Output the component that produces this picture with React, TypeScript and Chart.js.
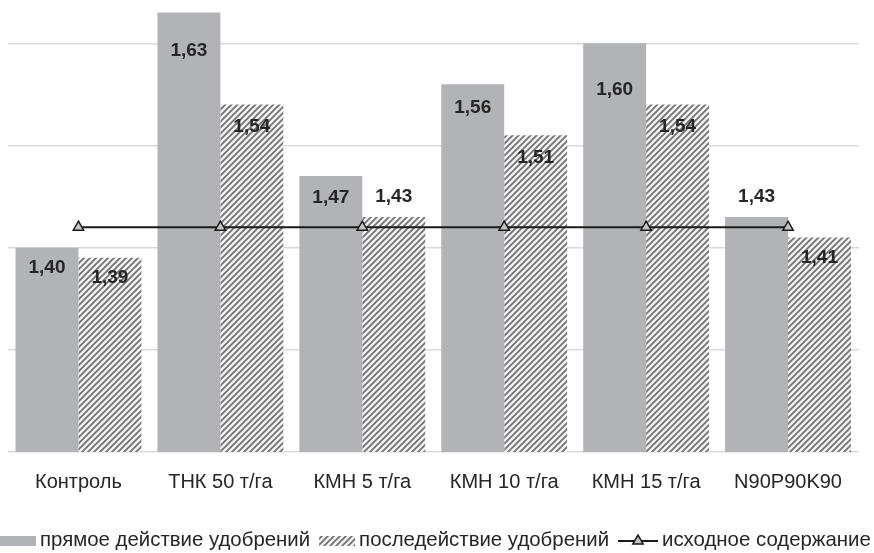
import React, { useEffect, useRef } from "react";
import { Chart, registerables } from "chart.js";

Chart.register(...registerables);

// ---- data ----
const categories = ["Контроль", "ТНК 50 т/га", "КМН 5 т/га", "КМН 10 т/га", "КМН 15 т/га", "N90P90K90"];
const directEffect = [1.4, 1.63, 1.47, 1.56, 1.6, 1.43];
const afterEffect = [1.39, 1.54, 1.43, 1.51, 1.54, 1.41];
const initialContent = [1.42, 1.42, 1.42, 1.42, 1.42, 1.42];
const seriesNames = ["прямое действие удобрений", "последействие удобрений", "исходное содержание"];
const yTickValues = [1.2, 1.3, 1.4, 1.5, 1.6];
const yMin = 1.2;
const yMax = 1.635;

// ---- label placement (style, px from bar top; negative = above) ----
const directLabelShift = [20, 38, 22, 24, 47, -20];
const afterLabelShift = [20, 22, -20, 23, 22, 20];

const FONT = '"Liberation Sans", Arial, Helvetica, sans-serif';
const TEXT = "#262626";
const GRAY = "#b2b3b7";
const LINE = "#1a1a1a";

function fmt(v: number) {
  return v.toFixed(2).replace(".", ",");
}

function makeHatch(): CanvasPattern | string {
  const c = document.createElement("canvas");
  const s = 6;
  c.width = s;
  c.height = s;
  const g = c.getContext("2d");
  if (!g) return "#999";
  g.fillStyle = "#f4f4f4";
  g.fillRect(0, 0, s, s);
  g.strokeStyle = "#747474";
  g.lineWidth = 1.9;
  g.beginPath();
  g.moveTo(-1, s + 1);
  g.lineTo(s + 1, -1);
  g.moveTo(-1, 1);
  g.lineTo(1, -1);
  g.moveTo(s - 1, s + 1);
  g.lineTo(s + 1, s - 1);
  g.stroke();
  const p = g.createPattern(c, "repeat");
  return p || "#999";
}

function drawTriangle(ctx: CanvasRenderingContext2D, x: number, y: number, r: number) {
  ctx.beginPath();
  let rad = 0;
  ctx.moveTo(x + Math.sin(rad) * r, y - Math.cos(rad) * r);
  rad += (2 * Math.PI) / 3;
  ctx.lineTo(x + Math.sin(rad) * r, y - Math.cos(rad) * r);
  rad += (2 * Math.PI) / 3;
  ctx.lineTo(x + Math.sin(rad) * r, y - Math.cos(rad) * r);
  ctx.closePath();
  ctx.fillStyle = "#c4c4c4";
  ctx.fill();
  ctx.lineWidth = 1.5;
  ctx.strokeStyle = LINE;
  ctx.stroke();
}

const labelPlugin = {
  id: "barValueLabels",
  afterDatasetsDraw(chart: any) {
    const ctx: CanvasRenderingContext2D = chart.ctx;
    ctx.save();
    ctx.font = `bold 19px ${FONT}`;
    ctx.fillStyle = TEXT;
    ctx.textAlign = "center";
    ctx.textBaseline = "middle";
    [0, 1].forEach((di) => {
      const meta = chart.getDatasetMeta(di);
      const shifts = di === 0 ? directLabelShift : afterLabelShift;
      const data = chart.data.datasets[di].data as number[];
      meta.data.forEach((el: any, i: number) => {
        ctx.fillText(fmt(data[i]), el.x, el.y + shifts[i]);
      });
    });
    ctx.restore();
  },
};

const legendPlugin = {
  id: "bottomLegend",
  afterDraw(chart: any) {
    const ctx: CanvasRenderingContext2D = chart.ctx;
    const ds = chart.data.datasets;
    const box = 36;
    const boxH = 10;
    const markW = 40;
    const gapText = 4;
    const gapItem = 9;
    let size = 20.4;
    ctx.save();
    const widths = () => {
      ctx.font = `${size}px ${FONT}`;
      return ds.map((d: any) => ctx.measureText(d.label).width);
    };
    let w = widths();
    const total = () =>
      box + gapText + w[0] + gapItem + box + gapText + w[1] + gapItem + markW + gapText + w[2];
    while (total() > chart.width && size > 10) {
      size -= 0.2;
      w = widths();
    }
    const y = 540;
    let x = 0;
    ctx.textBaseline = "middle";
    ctx.textAlign = "left";
    // item 1
    ctx.fillStyle = ds[0].backgroundColor;
    ctx.fillRect(x, y - boxH / 2 + 1, box, boxH);
    x += box + gapText;
    ctx.fillStyle = TEXT;
    ctx.fillText(ds[0].label, x, y);
    x += w[0] + gapItem;
    // item 2
    ctx.fillStyle = ds[1].backgroundColor;
    ctx.fillRect(x, y - boxH / 2 + 1, box, boxH);
    x += box + gapText;
    ctx.fillStyle = TEXT;
    ctx.fillText(ds[1].label, x, y);
    x += w[1] + gapItem;
    // item 3
    ctx.strokeStyle = LINE;
    ctx.lineWidth = 2;
    ctx.beginPath();
    ctx.moveTo(x, y + 1);
    ctx.lineTo(x + markW, y + 1);
    ctx.stroke();
    drawTriangle(ctx, x + markW / 2, y + 1, 6);
    x += markW + gapText;
    ctx.fillStyle = TEXT;
    ctx.fillText(ds[2].label, x, y);
    ctx.restore();
  },
};

export default function App() {
  const ref = useRef<HTMLCanvasElement | null>(null);

  useEffect(() => {
    if (!ref.current) return;
    Chart.defaults.font.family = FONT;
    const hatch = makeHatch();
    const chart = new Chart(ref.current, {
      type: "bar",
      data: {
        labels: categories,
        datasets: [
          {
            label: seriesNames[0],
            data: directEffect,
            backgroundColor: GRAY,
            borderWidth: 0,
            order: 1,
          },
          {
            label: seriesNames[1],
            data: afterEffect,
            backgroundColor: hatch as any,
            borderWidth: 0,
            order: 1,
          },
          {
            type: "line",
            label: seriesNames[2],
            data: initialContent,
            borderColor: LINE,
            borderWidth: 2,
            pointStyle: "triangle",
            pointRadius: 6,
            pointBackgroundColor: "#c4c4c4",
            pointBorderColor: LINE,
            pointBorderWidth: 1.5,
            fill: false,
            order: 0,
          } as any,
        ] as any,
      },
      options: {
        animation: false,
        responsive: true,
        maintainAspectRatio: false,
        layout: { padding: { left: 7, right: 15, top: 1, bottom: 41 } },
        datasets: {
          bar: { categoryPercentage: 0.887, barPercentage: 1 },
        },
        scales: {
          x: {
            grid: { display: false, drawTicks: false },
            border: { display: false },
            ticks: {
              color: TEXT,
              font: { size: 20, family: FONT },
              padding: 18,
              maxRotation: 0,
              autoSkip: false,
            },
          },
          y: {
            min: yMin,
            max: yMax,
            afterBuildTicks: (scale: any) => {
              scale.ticks = yTickValues.map((v) => ({ value: v }));
            },
            grid: { color: "#dadada", lineWidth: 1.5, drawTicks: false },
            border: { display: false },
            ticks: { display: false },
          },
        },
        plugins: {
          legend: { display: false },
          tooltip: { enabled: false },
        },
      },
      plugins: [labelPlugin, legendPlugin],
    });
    return () => chart.destroy();
  }, []);

  return (
    <div style={{ position: "absolute", left: 0, top: 0, width: 874, height: 553, background: "#fff" }}>
      <canvas ref={ref} />
    </div>
  );
}
